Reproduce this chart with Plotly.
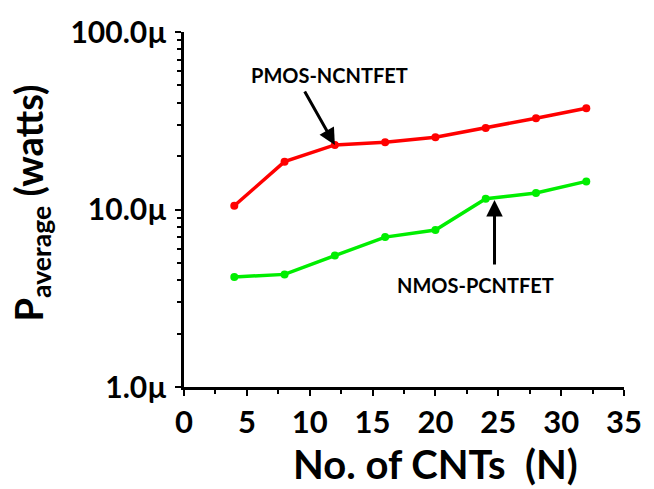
import math
import plotly.graph_objects as go

n_cnts = [4, 8, 12, 16, 20, 24, 28, 32]
pmos_ncntfet_uW = [10.5, 18.6, 23.1, 23.9, 25.5, 28.8, 32.7, 37.2]
nmos_pcntfet_uW = [4.17, 4.31, 5.5, 6.99, 7.67, 11.5, 12.4, 14.4]
y_tick_vals_uW = [1, 10, 100]
y_tick_text = ["1.0\u00b5", "10.0\u00b5", "100.0\u00b5"]
x_tick_vals = [0, 5, 10, 15, 20, 25, 30, 35]

FONT = "Lato"
L, R, T, B = 184, 26, 26, 102
W, H = 654, 489

fig = go.Figure()
fig.add_trace(go.Scatter(x=n_cnts, y=pmos_ncntfet_uW, mode="lines+markers",
                         line=dict(color="#ff0000", width=3.5),
                         marker=dict(color="#ff0000", size=8), showlegend=False))
fig.add_trace(go.Scatter(x=n_cnts, y=nmos_pcntfet_uW, mode="lines+markers",
                         line=dict(color="#00ee00", width=3.5),
                         marker=dict(color="#00ee00", size=8), showlegend=False))

minor_y = [m * d for d in [1, 10] for m in range(2, 10)]

fig.update_layout(
    width=W, height=H,
    margin=dict(l=L, r=R, t=T, b=B),
    paper_bgcolor="white", plot_bgcolor="white",
    font=dict(family=FONT, color="black"),
    xaxis=dict(range=[0, 35], tickvals=x_tick_vals, showline=True, linecolor="black",
               linewidth=3, ticks="outside", ticklen=6, tickwidth=2, tickcolor="black",
               showgrid=False, zeroline=False,
               tickfont=dict(family=FONT, size=31, color="black", weight="bold"),
               minor=dict(tickvals=[2.5, 7.5, 12.5, 17.5, 22.5, 27.5, 32.5],
                          ticks="outside", ticklen=4, tickwidth=1.5, tickcolor="black")),
    yaxis=dict(type="log", range=[0, 2], tickvals=y_tick_vals_uW, ticktext=y_tick_text,
               showline=True, linecolor="black", linewidth=3, ticks="outside",
               ticklen=6, tickwidth=2, tickcolor="black", showgrid=False, zeroline=False,
               ticklabelstandoff=2,
               tickfont=dict(family=FONT, size=30, color="black", weight="bold"),
               minor=dict(tickvals=minor_y, ticks="outside", ticklen=4, tickwidth=1.5,
                          tickcolor="black")),
)

# arrows: head on data point (log axis -> log10 coords), tail offset in pixels
fig.add_annotation(x=12, y=math.log10(pmos_ncntfet_uW[2]), xref="x", yref="y", ax=-31, ay=-55,
                   text="", showarrow=True, arrowhead=2, arrowsize=1.1, arrowwidth=3, arrowcolor="black")
fig.add_annotation(x=24.7, y=math.log10(11.3), xref="x", yref="y", ax=0, ay=66,
                   text="", showarrow=True, arrowhead=2, arrowsize=1.1, arrowwidth=3, arrowcolor="black")

def px_to_paper(px, py):
    return (px - L) / (W - L - R), 1 - (py - T) / (H - T - B)

for label, (px, py) in [("PMOS-NCNTFET", (331, 70)), ("NMOS-PCNTFET", (478, 283))]:
    xp, yp = px_to_paper(px, py)
    fig.add_annotation(x=xp, y=yp, xref="paper", yref="paper", text=label, showarrow=False,
                       xanchor="center", yanchor="middle",
                       font=dict(family=FONT, size=20, color="black", weight="bold"))

# axis titles
xp, yp = px_to_paper(438, 465)
fig.add_annotation(x=xp, y=yp, xref="paper", yref="paper", text="No. of CNTs  (N)", showarrow=False,
                   xanchor="center", yanchor="middle",
                   font=dict(family=FONT, size=40, color="black", weight="bold"))
xp, yp = px_to_paper(30, 200)
fig.add_annotation(x=xp, y=yp, xref="paper", yref="paper", text="P<sub>average</sub> (watts)",
                   showarrow=False, textangle=-90, xanchor="center", yanchor="middle",
                   font=dict(family=FONT, size=38, color="black", weight="bold"))

fig.write_html("out.html")
